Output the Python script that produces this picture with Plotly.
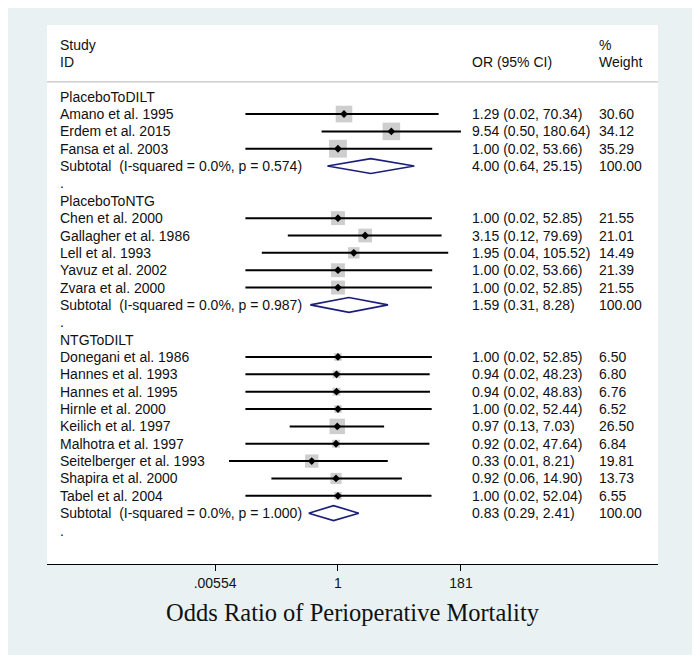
import math
import plotly.graph_objects as go

# subgroup names and per-study data
groups = ["PlaceboToDILT", "PlaceboToNTG", "NTGToDILT"]

studies = [
    ["Amano et al. 1995", "Erdem et al. 2015", "Fansa et al. 2003"],
    ["Chen et al. 2000", "Gallagher et al. 1986", "Lell et al. 1993",
     "Yavuz et al. 2002", "Zvara et al. 2000"],
    ["Donegani et al. 1986", "Hannes et al. 1993", "Hannes et al. 1995",
     "Hirnle et al. 2000", "Keilich et al. 1997", "Malhotra et al. 1997",
     "Seitelberger et al. 1993", "Shapira et al. 2000", "Tabel et al. 2004"],
]
odds = [
    [1.29, 9.54, 1.00],
    [1.00, 3.15, 1.95, 1.00, 1.00],
    [1.00, 0.94, 0.94, 1.00, 0.97, 0.92, 0.33, 0.92, 1.00],
]
lower = [
    [0.02, 0.50, 0.02],
    [0.02, 0.12, 0.04, 0.02, 0.02],
    [0.02, 0.02, 0.02, 0.02, 0.13, 0.02, 0.01, 0.06, 0.02],
]
upper = [
    [70.34, 180.64, 53.66],
    [52.85, 79.69, 105.52, 53.66, 52.85],
    [52.85, 48.23, 48.83, 52.44, 7.03, 47.64, 8.21, 14.90, 52.04],
]
weights = [
    [30.60, 34.12, 35.29],
    [21.55, 21.01, 14.49, 21.39, 21.55],
    [6.50, 6.80, 6.76, 6.52, 26.50, 6.84, 19.81, 13.73, 6.55],
]

# subtotal (pooled) estimates
sub_or = [4.00, 1.59, 0.83]
sub_lo = [0.64, 0.31, 0.29]
sub_hi = [25.15, 8.28, 2.41]
sub_label = [
    "Subtotal  (I-squared = 0.0%, p = 0.574)",
    "Subtotal  (I-squared = 0.0%, p = 0.987)",
    "Subtotal  (I-squared = 0.0%, p = 1.000)",
]

tick_vals = [0.00554, 1, 181]
tick_text = [".00554", "1", "181"]

FONT = "Liberation Sans, Arial, Helvetica, sans-serif"
TXT = 14

fig = go.Figure()
annots = []


def put(text, xp, row):
    annots.append(dict(text=text, x=xp, y=row, xref="paper", yref="y",
                       xanchor="left", yanchor="middle", showarrow=False,
                       font=dict(family=FONT, size=TXT, color="#111111")))


ci_x, ci_y = [], []
sq_x, sq_y, sq_s = [], [], []
row = 0
for g in range(len(groups)):
    put(groups[g], 0.018, row)
    row += 1
    for i, name in enumerate(studies[g]):
        put(name, 0.018, row)
        put(f"{odds[g][i]:.2f} ({lower[g][i]:.2f}, {upper[g][i]:.2f})", 0.692, row)
        put(f"{weights[g][i]:.2f}", 0.9, row)
        ci_x += [lower[g][i], upper[g][i], None]
        ci_y += [row, row, None]
        sq_x.append(odds[g][i])
        sq_y.append(row)
        sq_s.append(3 * math.sqrt(weights[g][i]))
        row += 1
    put(sub_label[g], 0.018, row)
    put(f"{sub_or[g]:.2f} ({sub_lo[g]:.2f}, {sub_hi[g]:.2f})", 0.692, row)
    put("100.00", 0.9, row)
    # diamond for pooled estimate
    fig.add_trace(go.Scatter(
        x=[sub_lo[g], sub_or[g], sub_hi[g], sub_or[g], sub_lo[g]],
        y=[row, row - 0.43, row, row + 0.43, row],
        mode="lines", line=dict(color="#1b1f78", width=1.6),
        fill="toself", fillcolor="white", hoverinfo="skip"))
    row += 1
    put(".", 0.018, row)
    row += 1

# header
put("Study", 0.018, -3)
put("ID", 0.018, -2)
put("OR (95% CI)", 0.692, -2)
put("%", 0.9, -3)
put("Weight", 0.9, -2)

fig.add_trace(go.Scatter(x=sq_x, y=sq_y, mode="markers", hoverinfo="skip",
                         marker=dict(symbol="square", size=sq_s, color="#b9b9b9",
                                     line=dict(width=0))))
fig.add_trace(go.Scatter(x=ci_x, y=ci_y, mode="lines", hoverinfo="skip",
                         line=dict(color="black", width=2)))
fig.add_trace(go.Scatter(x=sq_x, y=sq_y, mode="markers", hoverinfo="skip",
                         marker=dict(symbol="diamond", size=6, color="black")))

# header separator and null line
fig.add_shape(type="line", xref="paper", yref="y", x0=0, x1=1, y0=-0.85, y1=-0.85,
              line=dict(color="#c4c4c4", width=1.2))
fig.add_shape(type="line", xref="x", yref="y", x0=0, x1=0, y0=-0.85, y1=26.93,
              line=dict(color="black", width=1.3))

# page body has an 8px margin, so the figure is a bit smaller and shifted
fig.update_layout(
    width=689, height=647,
    margin=dict(l=39, r=39, t=17, b=91),
    paper_bgcolor="#e9f1f3", plot_bgcolor="white",
    showlegend=False,
    annotations=annots,
    xaxis=dict(type="log", range=[-5.341, 5.874], showgrid=False, zeroline=False,
               showline=True, linecolor="black", linewidth=1.2,
               tickvals=tick_vals, ticktext=tick_text, ticks="outside",
               ticklen=6, tickcolor="black",
               tickfont=dict(family=FONT, size=14, color="#111111"),
               title=dict(text="Odds Ratio of Perioperative Mortality", standoff=13,
                          font=dict(family="Liberation Serif, Times New Roman, serif",
                                    size=24.5, color="#111111"))),
    yaxis=dict(range=[26.93, -4.13], visible=False, showgrid=False, zeroline=False),
)

fig.write_html("out.html")
